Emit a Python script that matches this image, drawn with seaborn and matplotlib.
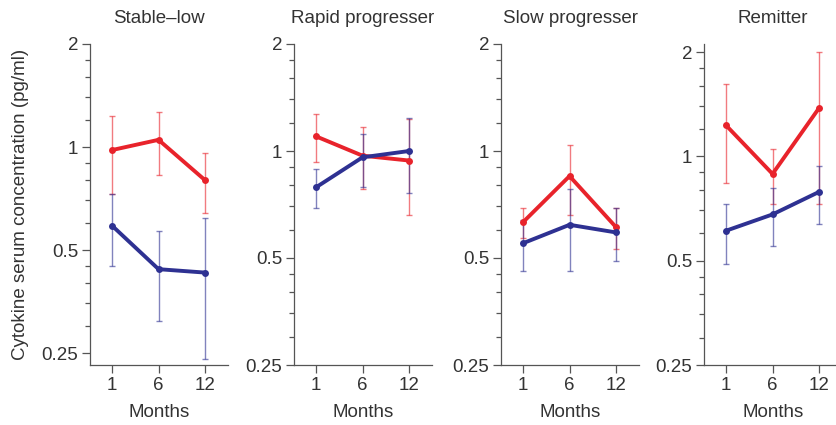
import numpy as np
import pandas as pd
import matplotlib
matplotlib.use("Agg")
import matplotlib.pyplot as plt
import seaborn as sns
from matplotlib.ticker import FixedLocator, FixedFormatter, NullFormatter

# Data (pg/ml), months 1, 6, 12
panels = ["Stable\u2013low", "Rapid progresser", "Slow progresser", "Remitter"]
months = ["1", "6", "12"]

red_mean = [[0.98, 1.05, 0.80], [1.10, 0.97, 0.94], [0.63, 0.85, 0.61], [1.23, 0.89, 1.38]]
red_low = [[0.73, 0.83, 0.64], [0.93, 0.78, 0.66], [0.57, 0.66, 0.53], [0.84, 0.73, 0.73]]
red_high = [[1.23, 1.27, 0.96], [1.27, 1.17, 1.23], [0.69, 1.04, 0.69], [1.62, 1.05, 2.00]]

blue_mean = [[0.59, 0.44, 0.43], [0.79, 0.96, 1.00], [0.55, 0.62, 0.59], [0.61, 0.68, 0.79]]
blue_low = [[0.45, 0.31, 0.24], [0.69, 0.79, 0.76], [0.46, 0.46, 0.49], [0.49, 0.55, 0.64]]
blue_high = [[0.73, 0.57, 0.62], [0.89, 1.12, 1.24], [0.64, 0.78, 0.69], [0.73, 0.81, 0.94]]

# per-panel y limits (the published panels are not perfectly aligned)
ylims = [(0.231, 2.0), (0.25, 2.0), (0.25, 2.0), (0.25, 2.11)]
lefts = [90, 294, 501, 704]

RED = "#e8232b"
BLUE = "#2e3192"
TXT = "#333333"

sns.set_style("ticks")
plt.rcParams["font.family"] = ["Liberation Sans", "DejaVu Sans"]
plt.rcParams["font.size"] = 13.5

fig = plt.figure(figsize=(8.36, 4.25), dpi=100)
W, H = 836, 425

for i, name in enumerate(panels):
    ax = fig.add_axes([lefts[i] / W, 60 / H, 138 / W, 321 / H])
    x = np.arange(len(months))
    df = pd.DataFrame({
        "pos": np.concatenate([x, x]),
        "value": red_mean[i] + blue_mean[i],
        "group": ["red"] * 3 + ["blue"] * 3,
    })

    # error bars first, lighter, underneath
    for mean, lo, hi, col in [(red_mean[i], red_low[i], red_high[i], RED),
                              (blue_mean[i], blue_low[i], blue_high[i], BLUE)]:
        mean = np.array(mean)
        yerr = [mean - np.array(lo), np.array(hi) - mean]
        ax.errorbar(x, mean, yerr=yerr, fmt="none", ecolor=col, alpha=0.6,
                    elinewidth=1.0, capsize=2.5, capthick=1.0, zorder=2)

    sns.lineplot(data=df, x="pos", y="value", hue="group",
                 palette={"red": RED, "blue": BLUE}, hue_order=["red", "blue"],
                 linewidth=2.8, marker="o", markersize=5, markeredgewidth=0,
                 legend=False, ax=ax, zorder=3)

    ax.set_yscale("log")
    ax.set_ylim(*ylims[i])
    ax.set_xlim(-0.47, 2.49)
    ax.yaxis.set_major_locator(FixedLocator([0.25, 0.5, 1, 2]))
    ax.yaxis.set_major_formatter(FixedFormatter(["0.25", "0.5", "1", "2"]))
    ax.yaxis.set_minor_locator(FixedLocator([0.3, 0.35, 0.4, 0.45, 0.6, 0.7, 0.8, 0.9,
                                             1.2, 1.4, 1.6, 1.8]))
    ax.yaxis.set_minor_formatter(NullFormatter())
    ax.set_xticks(x)
    ax.set_xticklabels(months)

    ax.tick_params(axis="both", which="major", length=5.5, width=0.9,
                   colors="#555555", labelcolor=TXT, labelsize=13.5, pad=3)
    ax.tick_params(axis="y", which="minor", length=3.5, width=0.9, colors="#555555")
    for s in ["left", "bottom"]:
        ax.spines[s].set_color("#555555")
        ax.spines[s].set_linewidth(0.9)
    sns.despine(ax=ax)

    ax.set_xlabel("Months", color=TXT, fontsize=13.5, labelpad=7)
    if i == 0:
        ax.set_ylabel("Cytokine serum concentration (pg/ml)", color=TXT, fontsize=13.5)
        ax.yaxis.set_label_coords(-0.44, 0.5)
    else:
        ax.set_ylabel("")
    ax.set_title(name, color=TXT, fontsize=13.5, pad=15)

fig.savefig("out.png", dpi=100)
